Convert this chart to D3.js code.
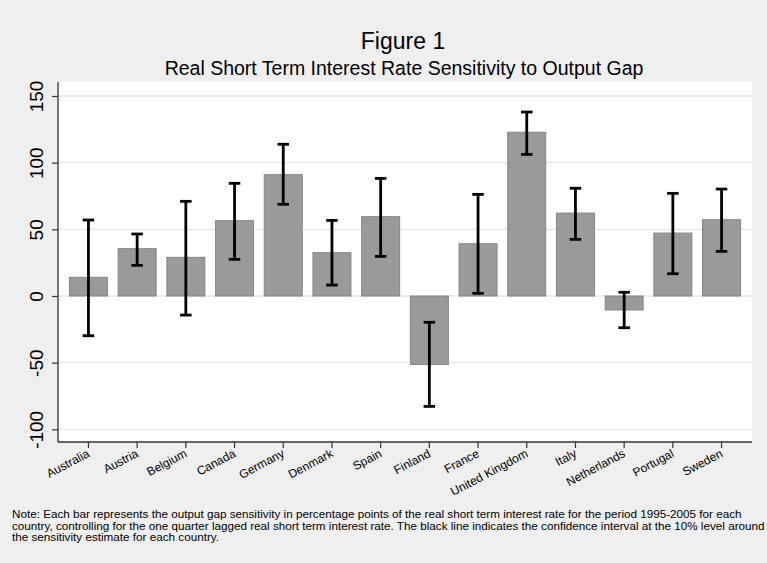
<!DOCTYPE html>
<html>
<head>
<meta charset="utf-8">
<script src="https://cdn.jsdelivr.net/npm/d3@7"></script>
<style>
  html, body { margin: 0; padding: 0; background: #efefef; }
  svg { display: block; font-family: "Liberation Sans", Arial, sans-serif; }
</style>
</head>
<body>
<svg id="chart" width="767" height="563"></svg>
<script>
// Countries in plotting order
const countries = ["Australia", "Austria", "Belgium", "Canada", "Germany", "Denmark", "Spain",
  "Finland", "France", "United Kingdom", "Italy", "Netherlands", "Portugal", "Sweden"];
// Point estimate of output-gap sensitivity (percentage points)
const estimates = [14, 35.5, 29, 56.5, 91, 32.5, 59.5, -51.3, 39.2, 122.8, 62.2, -10.5, 47.2, 57.2];
// 10% confidence interval bounds
const lower = [-29.8, 23, -14.3, 27.5, 68.8, 8.2, 29.7, -82.8, 2, 106.2, 42.5, -23.8, 16.7, 33.5];
const upper = [57, 46.5, 71, 84.5, 113.8, 56.7, 88.2, -19.7, 76.2, 138, 80.8, 2.8, 77, 80.2];
// Y axis ticks
const yTicks = [-100, -50, 0, 50, 100, 150];

const title = "Figure 1";
const subtitle = "Real Short Term Interest Rate Sensitivity to Output Gap";
const noteLines = [
  "Note: Each bar represents the output gap sensitivity in percentage points of the real short term interest rate for the period 1995-2005 for each",
  "country, controlling for the one quarter lagged real short term interest rate. The black line indicates the confidence interval at the 10% level around",
  "the sensitivity estimate for each country."
];

const rows = countries.map((c, i) => ({ c, v: estimates[i], lo: lower[i], hi: upper[i] }));

const svg = d3.select("#chart");
const plot = { left: 58, right: 752, top: 82, bottom: 442 };

const x = d3.scaleBand()
  .domain(countries)
  .range([plot.left, plot.right])
  .paddingInner(0.22)
  .paddingOuter(0.235);

const y = d3.scaleLinear()
  .domain([-109.5, 160.5])
  .range([plot.bottom, plot.top]);

// Plot region
svg.append("rect")
  .attr("x", plot.left).attr("y", plot.top)
  .attr("width", plot.right - plot.left).attr("height", plot.bottom - plot.top)
  .attr("fill", "#ffffff");

// Horizontal gridlines
svg.append("g")
  .selectAll("line")
  .data(yTicks)
  .join("line")
  .attr("x1", plot.left).attr("x2", plot.right)
  .attr("y1", d => y(d)).attr("y2", d => y(d))
  .attr("stroke", "#e6e6e6")
  .attr("stroke-width", 1.4);

// Bars
svg.append("g")
  .selectAll("rect")
  .data(rows)
  .join("rect")
  .attr("x", d => x(d.c))
  .attr("width", x.bandwidth())
  .attr("y", d => y(Math.max(0, d.v)))
  .attr("height", d => Math.abs(y(d.v) - y(0)))
  .attr("fill", "#9a9a9a")
  .attr("stroke", "#858585")
  .attr("stroke-width", 1);

// Confidence interval whiskers
const capW = 11.5;
const ci = svg.append("g").attr("stroke", "#000").attr("stroke-width", 2.8);
rows.forEach(d => {
  const cx = x(d.c) + x.bandwidth() / 2;
  ci.append("line").attr("x1", cx).attr("x2", cx).attr("y1", y(d.hi)).attr("y2", y(d.lo));
  ci.append("line").attr("x1", cx - capW / 2).attr("x2", cx + capW / 2).attr("y1", y(d.hi)).attr("y2", y(d.hi));
  ci.append("line").attr("x1", cx - capW / 2).attr("x2", cx + capW / 2).attr("y1", y(d.lo)).attr("y2", y(d.lo));
});

// Y axis
const yAxis = svg.append("g")
  .attr("transform", `translate(${plot.left},0)`)
  .call(d3.axisLeft(y).tickValues(yTicks).tickFormat(d => String(d))
    .tickSize(6).tickSizeOuter(0).tickPadding(9));
yAxis.select(".domain").attr("stroke", "#333").attr("stroke-width", 1.3)
  .attr("d", `M0,${plot.top}V${plot.bottom}`);
yAxis.selectAll(".tick line").attr("stroke", "#333").attr("stroke-width", 1.2);
yAxis.selectAll(".tick text")
  .attr("font-size", 19)
  .attr("font-family", "'Liberation Sans', Arial, sans-serif")
  .attr("fill", "#000")
  .attr("text-anchor", "middle")
  .attr("x", null).attr("dy", null)
  .attr("transform", "translate(-15,0) rotate(-90)");

// X axis
const xAxis = svg.append("g")
  .attr("transform", `translate(0,${plot.bottom})`)
  .call(d3.axisBottom(x).tickSize(6).tickSizeOuter(0).tickPadding(0));
xAxis.select(".domain").attr("stroke", "#333").attr("stroke-width", 1.3)
  .attr("d", `M${plot.left},0H${plot.right}`);
xAxis.selectAll(".tick line").attr("stroke", "#333").attr("stroke-width", 1.2);
xAxis.selectAll(".tick text")
  .attr("font-size", 12)
  .attr("font-family", "'Liberation Sans', Arial, sans-serif")
  .attr("fill", "#000")
  .attr("text-anchor", "end")
  .attr("y", null).attr("dy", null)
  .attr("transform", "translate(2,14) rotate(-28)");

// Titles
const cxTitle = (plot.left + plot.right) / 2;
svg.append("text")
  .attr("x", cxTitle - 2).attr("y", 48.5)
  .attr("text-anchor", "middle")
  .attr("font-size", 23)
  .text(title);
svg.append("text")
  .attr("x", cxTitle - 1).attr("y", 74.5)
  .attr("text-anchor", "middle")
  .attr("font-size", 19.5)
  .text(subtitle);

// Note
svg.append("g")
  .selectAll("text")
  .data(noteLines)
  .join("text")
  .attr("x", 12)
  .attr("y", (d, i) => 518 + i * 11.7)
  .attr("font-size", 11.7)
  .text(d => d);
</script>
</body>
</html>
